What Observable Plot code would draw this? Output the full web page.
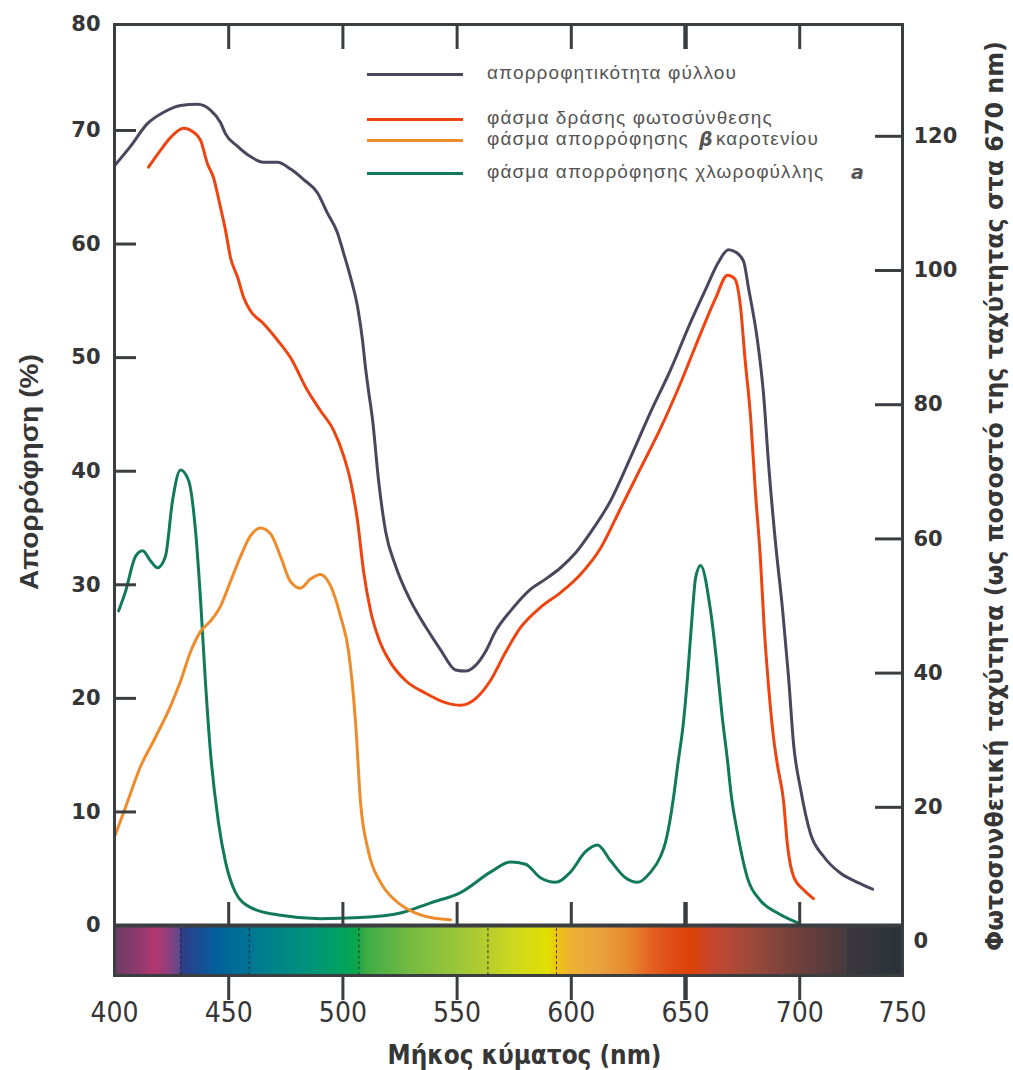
<!DOCTYPE html>
<html>
<head>
<meta charset="utf-8">
<script src="https://cdn.jsdelivr.net/npm/d3@7"></script>
<script src="https://cdn.jsdelivr.net/npm/@observablehq/plot@0.6"></script>
<style>
  body { margin: 0; background: #fff; }
  #wrap { position: relative; width: 1013px; height: 1070px; }
  .leg { position: absolute; font-family: "Liberation Sans", Arial, sans-serif; font-size: 19px;
         color: #555; letter-spacing: 1.1px; white-space: pre; line-height: 22px; }
  .legi { font-family: "DejaVu Sans", sans-serif; font-weight: bold; font-style: italic; color: #555; }
  .legline { position: absolute; height: 3px; }
</style>
</head>
<body>
<div id="wrap"></div>
<script>
// ---------- data ----------
// Leaf absorptance (%), left axis
const leafNm  = [400,407.0,414.4,421.5,428.9,436.3,442.0,446.4,448.6,453.9,459.5,465.2,471.4,477.1,482.7,488.9,493.3,497.6,500.3,503.3,506.4,508.6,509.9,511.2,513.0,515.6,518.7,523.0,529.6,536.2,542.7,549.3,553.7,558.1,562.4,566.8,573.4,582.1,588.7,595.3,601.8,608.4,617.2,625.9,634.7,643.4,652.2,658.8,664.4,668.8,671.9,675.4,677.6,681.5,684.2,686.3,689.4,692.5,695.1,697.3,700.4,704.7,710.4,717.9,725.3,731.9];
const leafAbs = [66.9,68.6,70.6,71.6,72.2,72.3,71.8,70.7,69.7,68.6,67.7,67.2,67.2,66.6,65.7,64.5,62.7,61.0,59.2,57.1,54.5,51.5,49.1,47.1,44.5,39.2,34.7,31.7,28.6,26.3,24.3,22.5,22.4,22.9,24.1,25.9,27.7,29.6,30.5,31.5,32.8,34.6,37.4,41.2,45.2,48.9,53.1,56.0,58.4,59.5,59.3,58.5,56.1,51.5,46.7,40.8,33.7,27.8,21.9,16.0,12.0,8.1,6.1,4.6,3.8,3.2];

// Photosynthetic action spectrum (% of rate at 670 nm), right axis
const actionNm   = [414.9,420.1,424.5,430.2,434.6,437.7,440.7,443.3,446.4,448.6,450.8,453.9,456.5,459.5,465.2,471.4,477.1,484.5,490.2,495.9,500.3,503.3,506.4,509.0,512.1,515.6,520.8,527.4,536.2,544.9,551.5,558.1,564.6,571.2,577.8,586.5,595.3,604.0,612.8,621.5,630.3,639.1,647.8,656.6,663.1,668.4,671.5,674.1,676.0,678.5,680.5,682.8,684.5,686.5,688.5,690.3,692.9,694.6,697.3,701.7,706.0];
const actionRate = [115.4,117.9,119.8,121.2,120.6,119.4,115.9,113.9,109.4,106.0,101.9,99.0,96.0,94.0,92.1,89.6,87.0,82.1,79.1,76.2,72.4,68.7,62.7,55.3,49.3,45.2,41.6,38.9,37.0,35.6,35.2,36.2,38.9,43.1,46.8,49.8,52.0,54.7,58.6,64.5,70.5,76.5,83.2,90.6,95.8,99.3,98.8,94.5,87.0,78.1,67.5,57.0,46.5,37.5,30.5,26.2,21.0,14.5,9.7,7.7,6.4];

// beta-carotene absorption, left axis
const caroNm  = [400,404.8,411.4,418.0,424.5,428.9,433.3,437.7,442.0,446.4,450.8,455.2,459.5,463.9,468.3,472.7,477.0,481.4,485.8,490.2,494.6,499.0,502.5,505.5,507.7,511.2,516.5,523.0,529.6,538.4,547.1];
const caroAbs = [7.8,10.4,14.0,16.6,19.3,21.5,24.1,25.9,26.8,28.1,30.3,32.5,34.3,35.0,34.5,32.5,30.3,29.7,30.5,30.9,29.9,27.2,24.1,18.0,10.9,6.5,3.8,2.2,1.3,0.7,0.5];

// chlorophyll a absorption, left axis
const chlNm  = [401.8,404.8,409.2,412.3,415.8,418.8,422.3,425.4,428.9,432.4,435.5,437.7,439.8,442.0,445.5,448.6,453.0,459.5,472.7,490.2,507.7,525.2,538.4,551.5,564.6,573.4,580.0,586.5,593.1,599.6,606.2,611.5,617.2,623.7,629.0,634.7,639.1,641.2,644.7,646.5,649.1,650.9,653.1,654.4,656.6,660.9,663.5,666.0,668.4,670.0,672.8,677.1,682.8,690.3,699.5];
const chlAbs = [27.7,29.4,32.5,33.0,32.1,31.5,32.5,37.4,40.1,39.2,34.7,28.6,21.5,15.3,9.1,5.6,2.9,1.6,0.9,0.6,0.7,1.1,2.0,2.9,4.7,5.6,5.4,4.2,3.8,4.7,6.5,7.1,5.7,4.2,3.8,4.7,6.1,7.3,11.2,14.0,17.9,21.9,27.8,30.6,31.7,27.8,23.5,18.5,14.5,11.5,8.1,4.2,2.2,1.1,0.2];

// Axis ticks and labels
const xTickNm     = [400, 450, 500, 550, 600, 650, 700, 745];   // 750 label sits on the right frame edge, as drawn
const xTickLabels = ["400","450","500","550","600","650","700","750"];
const xInnerTicks = [450, 500, 550, 600, 650, 700];
const yTickPos    = [0, 10, 20, 30, 40, 50, 60, 70, 79.33];     // 80 label sits on the top frame edge
const yTickLabels = ["0","10","20","30","40","50","60","70","80"];
const yInnerTicks = [10, 20, 30, 40, 50, 60, 70];
const rTicks      = [0, 20, 40, 60, 80, 100, 120];
const rInnerTicks = [20, 40, 60, 80, 100, 120];

// Spectrum band under the plot
const spectrumNm     = [400, 410, 418, 424, 428.5, 429.5, 437, 445, 455, 470, 485, 500, 506, 510, 530, 550, 563, 575, 590, 594, 600, 612, 625, 635, 645, 653, 662, 680, 700, 719.5, 720.5, 745];
const spectrumColors = ["#6a3d62","#8c3a6d","#b3376f","#8f3f7d","#60498c","#2f3d86","#1b4d93","#02609c","#006f98","#00848a","#00927c","#00a35e","#0aa64c","#3dab48","#76bb42","#9ac63a","#b6cd2e","#cfd81e","#e1df02","#edc410","#eeb132","#eaa23f","#e78b2f","#e46222","#e04a13","#dc4208","#c4472f","#9a4a3c","#6f3f3d","#4a3a3d","#3c383d","#2b3238"];
const spectrumDividers = [429, 459, 507, 563.5, 593.5];

// Legend
const legendLabels = ["απορροφητικότητα φύλλου", "φάσμα δράσης φωτοσύνθεσης", "φάσμα απορρόφησης", "φάσμα απορρόφησης χλωροφύλλης"];
const seriesColors = ["#4b465d", "#ee4410", "#ee8b2a", "#127a5a"];

// Axis titles
const yTitle  = "Απορρόφηση (%)";
const y2Title = "Φωτοσυνθετική ταχύτητα (ως ποσοστό της ταχύτητας στα 670 nm)";
const xTitle  = "Μήκος κύματος (nm)";

// ---------- build ----------
const yMin = -4.4, yTop = 79.33;
// right axis (percent of rate at 670 nm) expressed in left-axis units
const toLeft = r => -1.409 + 0.5908 * r;

const leaf   = leafNm.map((nm, i) => ({nm, v: leafAbs[i]}));
const action = actionNm.map((nm, i) => ({nm, v: toLeft(actionRate[i])}));
const caro   = caroNm.map((nm, i) => ({nm, v: caroAbs[i]}));
const chl    = chlNm.map((nm, i) => ({nm, v: chlAbs[i]}));
const band   = [{x1: spectrumNm[0], x2: spectrumNm[spectrumNm.length - 1], y1: yMin, y2: 0}];

const xLab = new Map(xTickNm.map((d, i) => [d, xTickLabels[i]]));
const yLab = new Map(yTickPos.map((d, i) => [d, yTickLabels[i]]));
const rPos = rTicks.map(toLeft);
const rLab = new Map(rPos.map((d, i) => [d, String(rTicks[i])]));

const FRAME = "#3b3e41";
const TXT = "#363636";
const bold = "'DejaVu Sans', Verdana, sans-serif";
const cond = "'DejaVu Sans Condensed', 'Liberation Sans Narrow', 'Arial Narrow', sans-serif";
const sans = "'Liberation Sans', Arial, sans-serif";

const svg = Plot.plot({
  width: 1013,
  height: 1070,
  marginLeft: 114,
  marginRight: 111,
  marginTop: 24,
  marginBottom: 95,
  x: {domain: [400, 745]},
  y: {domain: [yMin, yTop]},
  style: {background: "white", color: TXT, fontFamily: sans, overflow: "visible"},
  marks: [
    Plot.rect(band, {x1: "x1", x2: "x2", y1: "y1", y2: "y2", fill: "url(#spectrum)"}),
    Plot.ruleX(spectrumDividers, {x: d => d, y1: yMin, y2: 0, stroke: "#1e1e1e", strokeWidth: 1, strokeDasharray: "3,2.5", strokeOpacity: 0.85}),
    Plot.ruleX([720], {x: d => d, y1: yMin, y2: 0, stroke: "#555", strokeWidth: 1, strokeOpacity: 0.5}),

    Plot.line(chl,    {x: "nm", y: "v", stroke: seriesColors[3], strokeWidth: 3, curve: "monotone-x"}),
    Plot.line(caro,   {x: "nm", y: "v", stroke: seriesColors[2], strokeWidth: 3, curve: "monotone-x"}),
    Plot.line(action, {x: "nm", y: "v", stroke: seriesColors[1], strokeWidth: 3, curve: "monotone-x"}),
    Plot.line(leaf,   {x: "nm", y: "v", stroke: seriesColors[0], strokeWidth: 3, curve: "monotone-x"}),

    // inward tick marks
    Plot.ruleY(yInnerTicks, {y: d => d, x1: 400, x2: 400, insetRight: -22, stroke: FRAME, strokeWidth: 3}),
    Plot.ruleY(rInnerTicks.map(toLeft), {y: d => d, x1: 745, x2: 745, insetLeft: -27, stroke: FRAME, strokeWidth: 3}),
    Plot.ruleX(xInnerTicks, {x: d => d, y1: yTop, y2: yTop, insetBottom: -25, stroke: FRAME, strokeWidth: d => d === 650 ? 4.5 : 3}),
    Plot.ruleX(xInnerTicks, {x: d => d, y1: 0, y2: 0, insetTop: -23, stroke: FRAME, strokeWidth: d => d === 650 ? 4.5 : 3}),
    Plot.ruleX(xInnerTicks, {x: d => d, y1: yMin, y2: yMin, insetBottom: -25, stroke: FRAME, strokeWidth: d => d === 650 ? 4.5 : 3}),

    Plot.ruleY([0], {stroke: FRAME, strokeWidth: 4}),
    Plot.frame({stroke: FRAME, strokeWidth: 3}),

    // tick labels
    Plot.axisX({anchor: "bottom", ticks: xTickNm, tickFormat: d => xLab.get(d), tickSize: 0, tickPadding: 27,
                fontSize: 28, fontFamily: cond, fill: TXT, label: null}),
    Plot.axisY({anchor: "left", ticks: yTickPos, tickFormat: d => yLab.get(d), tickSize: 0, tickPadding: 14,
                fontSize: 21, fontWeight: "bold", fontFamily: bold, fill: TXT, label: null}),
    Plot.axisY({anchor: "right", ticks: rPos, tickFormat: d => rLab.get(d), tickSize: 0, tickPadding: 11,
                fontSize: 21, fontWeight: "bold", fontFamily: bold, fill: TXT, label: null}),

    // axis titles
    Plot.text([yTitle], {text: d => d, frameAnchor: "left", textAnchor: "middle", lineAnchor: "middle", rotate: -90, dx: -85, dy: -28,
                fontSize: 25, fontWeight: "bold", fontFamily: sans, fill: TXT}),
    Plot.text([y2Title], {text: d => d, frameAnchor: "right", textAnchor: "middle", lineAnchor: "middle", rotate: -90, dx: 92, dy: -4,
                fontSize: 25, fontWeight: "bold", fontFamily: cond, fill: TXT}),
    Plot.text([xTitle], {text: d => d, frameAnchor: "bottom", textAnchor: "middle", lineAnchor: "middle", dx: 16, dy: 80,
                fontSize: 27, fontWeight: "bold", fontFamily: cond, fill: TXT})
  ]
});

// spectrum gradient
const root = d3.select(svg);
const grad = root.insert("defs", ":first-child").append("linearGradient")
  .attr("id", "spectrum").attr("x1", 0).attr("x2", 1).attr("y1", 0).attr("y2", 0);
const span = spectrumNm[spectrumNm.length - 1] - spectrumNm[0];
spectrumNm.forEach((nm, i) => grad.append("stop")
  .attr("offset", ((nm - spectrumNm[0]) / span).toFixed(4))
  .attr("stop-color", spectrumColors[i]));

// fit titles to the lengths seen in the reference (start-anchored, centred by hand)
const fit = new Map([[yTitle, 236], [y2Title, 910], [xTitle, 274]]);
root.selectAll("text").each(function () {
  const len = fit.get(this.textContent);
  if (len) {
    d3.select(this)
      .attr("text-anchor", "start")
      .attr("x", -len / 2)
      .attr("textLength", len)
      .attr("lengthAdjust", "spacingAndGlyphs");
  }
});

const wrap = document.getElementById("wrap");
wrap.appendChild(svg);

// legend (inside the plot area, top)
const rows = [
  {y: 74, text: legendLabels[0], color: seriesColors[0]},
  {y: 119, text: legendLabels[1], color: seriesColors[1]},
  {y: 140, text: legendLabels[2], color: seriesColors[2], extra: "β", extraX: 699, tail: "καροτενίου", tailX: 716},
  {y: 173, text: legendLabels[3], color: seriesColors[3], extra: "a", extraX: 851}
];
for (const r of rows) {
  const ln = document.createElement("div");
  ln.className = "legline";
  ln.style.left = "367px"; ln.style.width = "96px";
  ln.style.top = (r.y - 1.5) + "px"; ln.style.background = r.color;
  wrap.appendChild(ln);
  const t = document.createElement("div");
  t.className = "leg"; t.textContent = r.text;
  t.style.left = "487px"; t.style.top = (r.y - 12) + "px";
  wrap.appendChild(t);
  if (r.extra) {
    const e = document.createElement("div");
    e.className = "leg legi"; e.textContent = r.extra;
    e.style.left = r.extraX + "px"; e.style.top = (r.y - 12) + "px";
    wrap.appendChild(e);
  }
  if (r.tail) {
    const e = document.createElement("div");
    e.className = "leg"; e.textContent = r.tail;
    e.style.left = r.tailX + "px"; e.style.top = (r.y - 12) + "px";
    wrap.appendChild(e);
  }
}
</script>
</body>
</html>
